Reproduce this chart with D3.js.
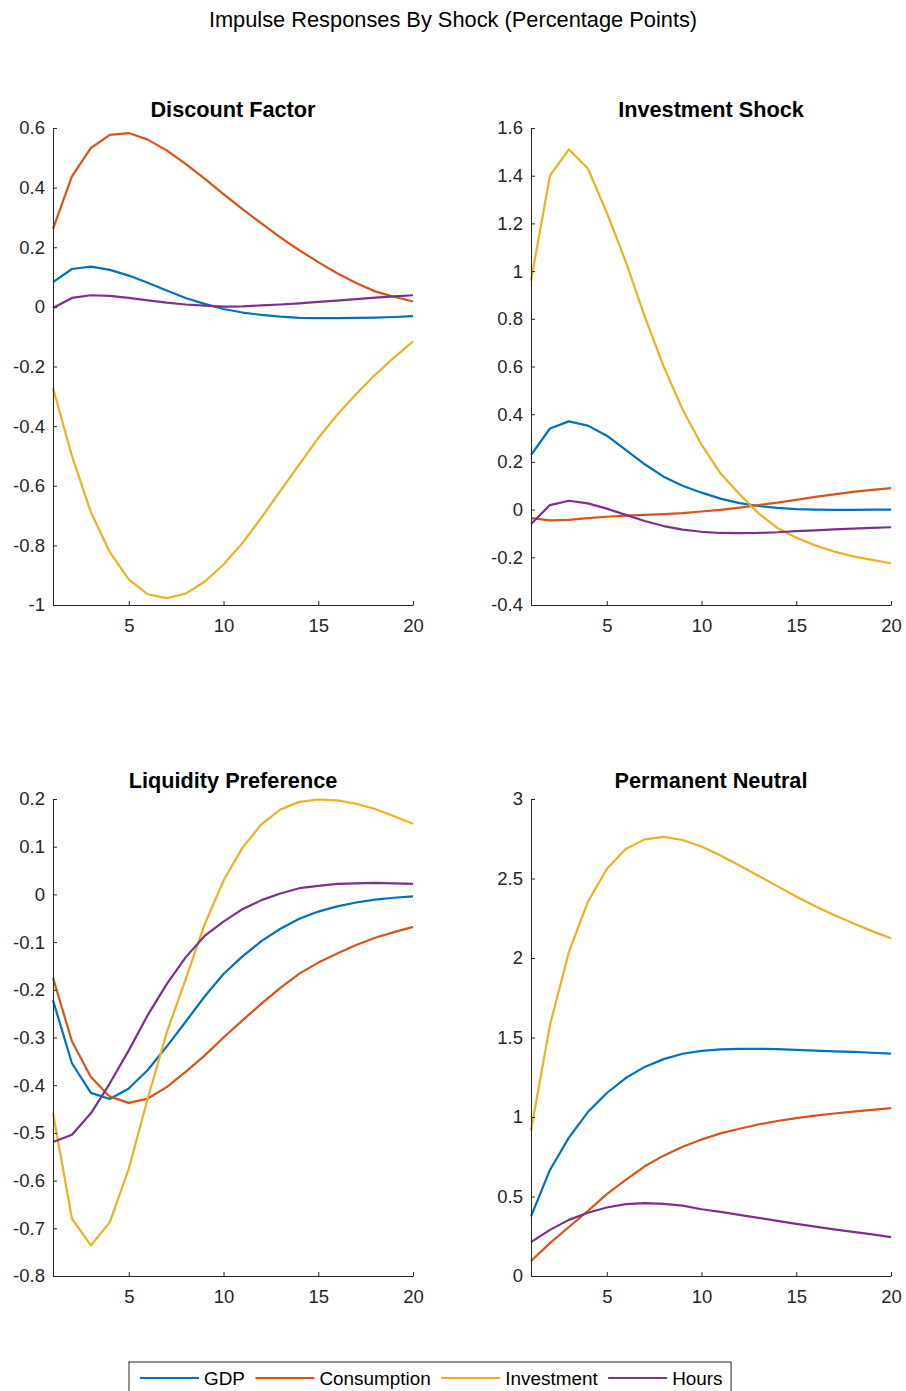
<!DOCTYPE html>
<html>
<head>
	<meta charset="utf-8" />
	<style>
		body {
			margin: 0;
			background: #fff;
			font-family: 'Liberation Sans', Arial, sans-serif;
		}
		svg text {
			fill: #262626;
		}
		.panel-title {
			font-weight: bold;
			fill: #000;
		}
	</style>
</head>
<body>
	<svg id="chart" width="906" height="1391"></svg>

	<script src="https://cdnjs.cloudflare.com/ajax/libs/d3/7.8.5/d3.min.js"></script>
	<script>
		// horizon (quarters)
		var periods = d3.range(1, 21);

		var seriesNames = ['GDP', 'Consumption', 'Investment', 'Hours'];
		var seriesColors = ['#0072BD', '#D95319', '#EDB120', '#7E2F8E'];

		// Discount Factor
		var dfGdp = [0.083, 0.127, 0.135, 0.124, 0.105, 0.081, 0.055, 0.03, 0.01, -0.007, -0.019, -0.027, -0.033, -0.037, -0.038, -0.038, -0.037, -0.036, -0.034, -0.031];
		var dfCons = [0.262, 0.438, 0.533, 0.577, 0.583, 0.561, 0.525, 0.48, 0.43, 0.378, 0.328, 0.28, 0.233, 0.19, 0.15, 0.113, 0.08, 0.052, 0.034, 0.018];
		var dfInv = [-0.272, -0.5, -0.689, -0.823, -0.914, -0.964, -0.977, -0.962, -0.922, -0.864, -0.792, -0.707, -0.617, -0.528, -0.44, -0.362, -0.292, -0.228, -0.17, -0.116];
		var dfHours = [-0.004, 0.03, 0.039, 0.037, 0.03, 0.022, 0.014, 0.008, 0.004, 0.001, 0.002, 0.005, 0.008, 0.012, 0.017, 0.021, 0.026, 0.031, 0.035, 0.039];

		// Investment Shock
		var isGdp = [0.228, 0.34, 0.37, 0.352, 0.31, 0.25, 0.19, 0.138, 0.1, 0.071, 0.046, 0.027, 0.015, 0.007, 0.002, 0.0, -0.001, -0.001, 0.0, 0.0];
		var isCons = [-0.036, -0.045, -0.043, -0.036, -0.03, -0.025, -0.022, -0.019, -0.015, -0.008, -0.001, 0.008, 0.019, 0.029, 0.041, 0.053, 0.064, 0.074, 0.083, 0.09];
		var isInv = [0.96, 1.4, 1.51, 1.43, 1.245, 1.04, 0.81, 0.6, 0.42, 0.272, 0.152, 0.065, -0.015, -0.077, -0.118, -0.15, -0.176, -0.196, -0.211, -0.225];
		var isHours = [-0.06, 0.019, 0.037, 0.026, 0.004, -0.022, -0.048, -0.069, -0.084, -0.093, -0.098, -0.099, -0.098, -0.095, -0.09, -0.087, -0.083, -0.08, -0.077, -0.074];

		// Liquidity Preference
		var lpGdp = [-0.222, -0.354, -0.416, -0.429, -0.407, -0.368, -0.319, -0.267, -0.214, -0.167, -0.13, -0.098, -0.072, -0.051, -0.036, -0.025, -0.017, -0.011, -0.007, -0.004];
		var lpCons = [-0.175, -0.308, -0.383, -0.424, -0.437, -0.428, -0.404, -0.372, -0.338, -0.3, -0.264, -0.229, -0.196, -0.166, -0.143, -0.124, -0.106, -0.091, -0.079, -0.068];
		var lpInv = [-0.458, -0.68, -0.736, -0.687, -0.575, -0.428, -0.29, -0.178, -0.063, 0.029, 0.098, 0.147, 0.178, 0.194, 0.199, 0.197, 0.19, 0.179, 0.164, 0.148];
		var lpHours = [-0.519, -0.504, -0.459, -0.396, -0.327, -0.253, -0.188, -0.132, -0.087, -0.057, -0.031, -0.012, 0.002, 0.013, 0.018, 0.022, 0.023, 0.024, 0.023, 0.022];

		// Permanent Neutral
		var pnGdp = [0.375, 0.667, 0.87, 1.031, 1.151, 1.245, 1.315, 1.364, 1.398, 1.416, 1.425, 1.429, 1.429, 1.427, 1.422, 1.418, 1.413, 1.409, 1.404, 1.398];
		var pnCons = [0.094, 0.207, 0.308, 0.409, 0.515, 0.604, 0.69, 0.757, 0.813, 0.858, 0.897, 0.926, 0.953, 0.975, 0.993, 1.009, 1.022, 1.034, 1.045, 1.056];
		var pnInv = [0.915, 1.578, 2.038, 2.353, 2.56, 2.685, 2.746, 2.762, 2.742, 2.701, 2.645, 2.582, 2.517, 2.452, 2.387, 2.326, 2.27, 2.218, 2.169, 2.124];
		var pnHours = [0.213, 0.29, 0.353, 0.398, 0.431, 0.452, 0.458, 0.454, 0.443, 0.42, 0.403, 0.384, 0.366, 0.347, 0.328, 0.31, 0.293, 0.277, 0.262, 0.245];

		var panelTitles = ['Discount Factor', 'Investment Shock', 'Liquidity Preference', 'Permanent Neutral'];
		var yLimits = [[-1, 0.6], [-0.4, 1.6], [-0.8, 0.2], [0, 3]];
		var yTickSteps = [0.2, 0.2, 0.1, 0.5];
		var xTicks = [5, 10, 15, 20];

		var panelSeries = [
			[dfGdp, dfCons, dfInv, dfHours],
			[isGdp, isCons, isInv, isHours],
			[lpGdp, lpCons, lpInv, lpHours],
			[pnGdp, pnCons, pnInv, pnHours],
		];

		var svg = d3.select('#chart');

		var cols = [53, 531];
		var rows = [128, 799];
		var plotW = 360;
		var plotH = 477;

		svg.append('text')
			.attr('x', 453)
			.attr('y', 27)
			.attr('text-anchor', 'middle')
			.style('font-size', '21.8px')
			.style('fill', '#000')
			.text('Impulse Responses By Shock (Percentage Points)');

		var fmt = d => String(Math.round(d * 10) / 10);

		panelSeries.forEach((series, i) => {
			var left = cols[i % 2];
			var top = rows[Math.floor(i / 2)];

			var x = d3.scaleLinear().domain([1, 20]).range([0, plotW]);
			var y = d3.scaleLinear().domain(yLimits[i]).range([plotH, 0]);

			var lo = yLimits[i][0], hi = yLimits[i][1], step = yTickSteps[i];
			var yTicks = d3.range(Math.round((hi - lo) / step) + 1).map(k => +(lo + k * step).toFixed(2));

			var g = svg.append('g').attr('transform', `translate(${left},${top})`);

			var line = d3.line()
				.x((d, j) => x(periods[j]))
				.y(d => y(d));

			g.selectAll('path.series')
				.data(series)
				.join('path')
				.attr('class', 'series')
				.attr('d', line)
				.attr('fill', 'none')
				.attr('stroke', (d, j) => seriesColors[j])
				.attr('stroke-width', 2.2)
				.attr('stroke-linejoin', 'round');

			var xAxis = g.append('g')
				.attr('transform', `translate(0,${plotH})`)
				.call(d3.axisBottom(x).tickValues(xTicks).tickSizeInner(-4).tickSizeOuter(0).tickPadding(14).tickFormat(fmt));

			var yAxis = g.append('g')
				.call(d3.axisLeft(y).tickValues(yTicks).tickSizeInner(-4).tickSizeOuter(0).tickPadding(8).tickFormat(fmt));

			[xAxis, yAxis].forEach(a => {
				a.select('.domain').attr('stroke', '#262626');
				a.selectAll('.tick line').attr('stroke', '#262626');
				a.selectAll('.tick text')
					.style('font-size', '18.5px')
					.style('font-family', "'Liberation Sans', Arial, sans-serif")
					.attr('fill', '#262626');
			});

			g.append('text')
				.attr('class', 'panel-title')
				.attr('x', plotW / 2)
				.attr('y', -11)
				.attr('text-anchor', 'middle')
				.style('font-size', '21.7px')
				.text(panelTitles[i]);
		});

		// legend
		var legend = svg.append('g');
		var legendBox = legend.append('rect')
			.attr('y', 1362)
			.attr('height', 40)
			.attr('fill', '#fff')
			.attr('stroke', '#262626')
			.attr('stroke-width', 1);

		var lx = 140;
		seriesNames.forEach((name, j) => {
			legend.append('line')
				.attr('x1', lx).attr('x2', lx + 59)
				.attr('y1', 1378).attr('y2', 1378)
				.attr('stroke', seriesColors[j])
				.attr('stroke-width', 2.2);
			var t = legend.append('text')
				.attr('x', lx + 64)
				.attr('y', 1385)
				.style('font-size', '18.9px')
				.style('fill', '#000')
				.text(name);
			lx += 64 + t.node().getComputedTextLength() + 10.5;
		});
		legendBox.attr('x', 129).attr('width', lx - 129 - 2);
	</script>
</body>
</html>
